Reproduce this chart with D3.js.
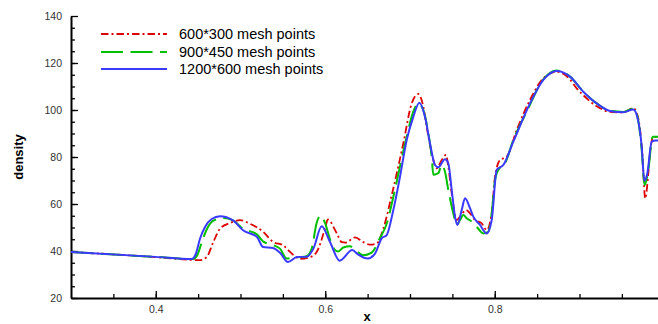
<!DOCTYPE html>
<html><head><meta charset="utf-8">
<script src="https://cdn.jsdelivr.net/npm/d3@7"></script>
<style>body{margin:0;background:#fff}svg{display:block;font-family:"Liberation Sans",Arial,sans-serif}</style>
</head><body><svg id="c" width="658" height="324"></svg>
<script>
const seriesNames = ["600*300 mesh points","900*450 mesh points","1200*600 mesh points"];
const xMajorTicks = [0.4,0.6,0.8];
const yMajorTicks = [20,40,60,80,100,120,140];
const xLabel = "x", yLabel = "density";

const red600 = [[0.30,39.6],[0.40,37.4],[0.4522,36.1],[0.4601,37.4],[0.4679,43.8],[0.4758,49.5],[0.4876,51.9],[0.4994,53.1],[0.5112,51.6],[0.5269,48.1],[0.5387,43.8],[0.5505,42.4],[0.5584,39.6],[0.5702,36.7],[0.582,37.4],[0.5899,39.6],[0.5997,49.5],[0.6030,53.4],[0.6135,47.6],[0.6194,43.8],[0.6240,43.6],[0.6351,45.8],[0.6449,43.8],[0.6528,42.7],[0.6607,43.2],[0.6685,49.5],[0.6784,63.7],[0.6862,76],[0.6921,85.8],[0.7020,102.8],[0.7098,106.8],[0.7157,101.4],[0.7197,92.9],[0.7256,81.6],[0.7315,75.2],[0.7374,78.7],[0.7425,80.9],[0.7452,75.9],[0.7492,64.6],[0.7551,53.2],[0.7590,54.6],[0.7661,57.4],[0.7708,56],[0.7767,53.2],[0.7846,51.8],[0.7905,48.9],[0.7964,56],[0.8003,71.6],[0.8062,78.7],[0.8141,80.1],[0.8259,91.5],[0.8416,104.3],[0.8573,113.5],[0.8731,116.3],[0.8888,113],[0.8967,109.2],[0.9045,106.3],[0.9203,101.6],[0.936,99.2],[0.9517,99],[0.9635,100.8],[0.9690,97],[0.9740,82],[0.9776,62.4],[0.9812,73.1],[0.9832,81.6],[0.9871,88.6],[0.995,88.6]];

const green900 = [[0.30,39.6],[0.40,37.5],[0.4440,36.6],[0.4490,38.2],[0.4550,44.5],[0.4610,49.8],[0.4676,52.8],[0.4794,54],[0.4912,53],[0.503,49.5],[0.5195,47],[0.5269,44],[0.5387,42.5],[0.5466,41],[0.5545,36.8],[0.5620,37.2],[0.5702,37.4],[0.578,37.8],[0.584,41],[0.5899,52],[0.5944,55],[0.5997,52],[0.6056,45],[0.6115,40.4],[0.6154,39.8],[0.6213,41.5],[0.6292,42],[0.6351,40.5],[0.6449,38.2],[0.6548,39.3],[0.6646,45.5],[0.6725,51.6],[0.6803,63],[0.6882,76],[0.6961,88.6],[0.7039,99.3],[0.7098,102.8],[0.7157,100],[0.7216,90.1],[0.7256,80.1],[0.7275,72.5],[0.7334,73.1],[0.7374,76.6],[0.7413,73.7],[0.7452,66],[0.7511,56],[0.7551,51.1],[0.7590,53.2],[0.7629,55.3],[0.7669,53.9],[0.7728,52.5],[0.7787,50.3],[0.7865,47.5],[0.7924,48.2],[0.7964,56],[0.8003,70.2],[0.8042,74.5],[0.8121,77.3],[0.8219,87.2],[0.8377,99.3],[0.8573,113],[0.8731,116.8],[0.8888,114.2],[0.9045,107.8],[0.9203,102.8],[0.936,99.6],[0.9517,99.2],[0.9635,100.6],[0.9682,97.5],[0.9734,83],[0.9768,68.1],[0.9810,74],[0.9864,88.6],[0.995,88.6]];

const blue1200 = [[0.30,39.6],[0.40,37.5],[0.4424,36.6],[0.4470,38.5],[0.4522,45.2],[0.4581,50.2],[0.4660,53.6],[0.4758,54.8],[0.4912,53],[0.503,48.8],[0.5195,46],[0.5265,41.7],[0.5383,41.3],[0.5466,39.3],[0.5560,35.3],[0.5667,37.4],[0.5785,37.6],[0.5860,41],[0.5958,50.5],[0.6056,43.8],[0.6170,35.9],[0.6318,40.4],[0.6386,38.6],[0.6500,36.8],[0.6587,38.9],[0.6666,45.4],[0.6725,46.8],[0.6803,57.4],[0.6882,71.6],[0.6961,87.2],[0.7039,97.1],[0.7110,103.1],[0.7177,97.1],[0.7236,85.8],[0.7295,76.6],[0.7334,75.6],[0.7413,79],[0.7452,77.3],[0.7492,66],[0.7531,54.6],[0.7558,51.1],[0.7610,57.4],[0.7649,62.4],[0.7708,58.2],[0.7747,54.6],[0.7826,51.1],[0.7905,47.5],[0.7964,53.2],[0.8023,74.5],[0.8101,76.6],[0.8219,86.5],[0.8416,102.8],[0.8573,112.8],[0.8731,116.6],[0.8888,114.2],[0.9045,107.8],[0.9203,102.8],[0.936,99.6],[0.9517,99],[0.9635,100.2],[0.9682,97],[0.9734,84.4],[0.9765,69.9],[0.9800,73],[0.9852,86.5],[0.9900,87],[0.995,87]];

const svg = d3.select("#c");
const x = d3.scaleLinear().domain([0.3,1.0]).range([71,664.25]);
const y = d3.scaleLinear().domain([20,140]).range([298,16]);

// minor ticks
const xMinor = d3.range(0.35,1.0,0.05).map(v=>+v.toFixed(2));
const yMinor = d3.range(25,140,5);

svg.append("g").attr("transform","translate(0,298)")
  .call(d3.axisBottom(x).tickValues(xMinor).tickSize(-4).tickSizeOuter(0).tickFormat(""))
  .call(g=>g.select(".domain").remove())
  .call(g=>g.selectAll("line").attr("stroke","#000").attr("stroke-width",1.3));
svg.append("g").attr("transform","translate(71,0)")
  .call(d3.axisLeft(y).tickValues(yMinor).tickSize(-4).tickSizeOuter(0).tickFormat(""))
  .call(g=>g.select(".domain").remove())
  .call(g=>g.selectAll("line").attr("stroke","#000").attr("stroke-width",1.3));

const xAx = svg.append("g").attr("transform","translate(0,298)")
  .call(d3.axisBottom(x).tickValues(xMajorTicks).tickSize(-7).tickSizeOuter(0).tickPadding(6).tickFormat(d3.format(".1f")));
const yAx = svg.append("g").attr("transform","translate(71,0)")
  .call(d3.axisLeft(y).tickValues(yMajorTicks).tickSize(-7).tickSizeOuter(0).tickPadding(9));
[xAx,yAx].forEach(g=>{
  g.select(".domain").attr("stroke","#000").attr("stroke-width",2);
  g.selectAll("line").attr("stroke","#000").attr("stroke-width",1.3);
  g.selectAll("text").attr("font-size",10.5).attr("fill","#333").attr("font-family","Liberation Sans, Arial, sans-serif");
});
xAx.selectAll("text").attr("dy","0.9em");

svg.append("text").attr("x",367).attr("y",321).attr("text-anchor","middle")
  .attr("font-weight","bold").attr("font-size",13).text(xLabel);
svg.append("text").attr("transform","translate(23,157) rotate(-90)").attr("text-anchor","middle")
  .attr("font-weight","bold").attr("font-size",13).text(yLabel);

const line = d3.line().x(d=>x(d[0])).y(d=>y(d[1])).curve(d3.curveMonotoneX);
const styles = [
  {data:red600, color:"#dd0000", w:1.8, dash:"7.5,3,2,3"},
  {data:green900, color:"#00c000", w:2, dash:"22,7.5"},
  {data:blue1200, color:"#3a3aff", w:2, dash:null}
];
styles.forEach(s=>{
  svg.append("path").datum(s.data).attr("d",line).attr("fill","none")
    .attr("stroke",s.color).attr("stroke-width",s.w).attr("stroke-dasharray",s.dash);
});

// legend
const legY = [34,52,69];
styles.forEach((s,i)=>{
  svg.append("line").attr("x1",101).attr("x2",167).attr("y1",legY[i]).attr("y2",legY[i])
    .attr("stroke",s.color).attr("stroke-width",s.w).attr("stroke-dasharray",s.dash);
  svg.append("text").attr("x",179).attr("y",legY[i]+5).attr("font-size",14.5).attr("fill","#000")
    .text(seriesNames[i]);
});
</script></body></html>
